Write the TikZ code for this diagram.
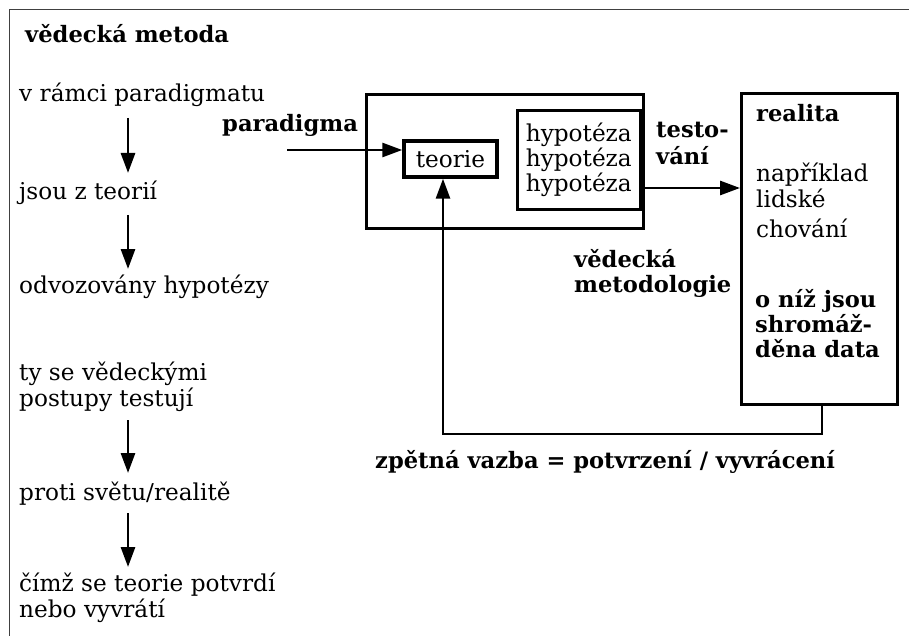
\documentclass[tikz,border=0pt]{standalone}
\usepackage{fontspec}
\setmainfont{DejaVu Serif}
\usetikzlibrary{arrows.meta}
\begin{document}
\begin{tikzpicture}[x=1pt,y=-1pt,
  reg/.style={inner sep=0pt, anchor=base west, font=\fontsize{23.2}{26}\selectfont},
  bld/.style={inner sep=0pt, anchor=base west, font=\fontsize{22.6}{26}\selectfont\bfseries},
  box/.style={draw, line width=3.4pt, inner sep=0pt},
  arr/.style={line width=2.8pt, -{Triangle[length=20pt,width=14pt]}}]
\useasboundingbox (0,0) rectangle (909,636);
% outer frame (open to the right and bottom)
\draw[line width=1.8pt, black!75] (9.5,660) -- (9.5,9.5) -- (930,9.5);

% left column
\node[bld] (title) at (25,43) {vědecká metoda};
\node[reg] (l1) at (19,102) {v rámci paradigmatu};
\node[reg] (l2) at (19,200) {jsou z teorií};
\node[reg] (l3) at (19,293) {odvozovány hypotézy};
\node[reg] (l4a) at (19,380) {ty se vědeckými};
\node[reg] (l4b) at (19,406) {postupy testují};
\node[reg] (l5) at (19,500) {proti světu/realitě};
\node[reg] (l6a) at (19,591) {čímž se teorie potvrdí};
\node[reg] (l6b) at (19,617) {nebo vyvrátí};

\coordinate (a1s) at (128,118); \coordinate (a1e) at (128,173);
\coordinate (a2s) at (128,215); \coordinate (a2e) at (128,269);
\coordinate (a3s) at (128,420); \coordinate (a3e) at (128,473);
\coordinate (a4s) at (128,513); \coordinate (a4e) at (128,567);
\draw[arr] (a1s) -- (a1e);
\draw[arr] (a2s) -- (a2e);
\draw[arr] (a3s) -- (a3e);
\draw[arr] (a4s) -- (a4e);

% methodology box
\node[box, anchor=north west, minimum width=277pt, minimum height=134pt] (meth) at (365,93) {};
\node[box, minimum width=93pt, minimum height=36pt, font=\fontsize{23.2}{26}\selectfont] (teorie) at (450.5,159) {teorie};
\node[box, anchor=north east, minimum width=123pt, minimum height=99pt, align=left,
      font=\fontsize{23.2}{25}\selectfont] (hyp) at (642,109) {hypotéza\\hypotéza\\hypotéza};

% reality box
\node[box, anchor=north west, minimum width=156pt, minimum height=311pt] (real) at (740,92) {};

% labels
\node[bld] (par) at (222,132) {paradigma};
\node[bld] (test1) at (656,138) {testo-};
\node[bld] (test2) at (656,165) {vání};
\node[bld] (r1) at (756,122) {realita};
\node[reg] (r2) at (756,182) {například};
\node[reg] (r3) at (756,208) {lidské};
\node[reg] (r4) at (756,237) {chování};
\node[bld] (m1) at (574,267) {vědecká};
\node[bld] (m2) at (574,292) {metodologie};
\node[bld] (r5) at (755,307) {o níž jsou};
\node[bld] (r6) at (755,332) {shromáž-};
\node[bld] (r7) at (755,357) {děna data};
\node[bld] (fbl) at (375,468) {zpětná vazba = potvrzení / vyvrácení};

% connectors
\coordinate (pstart) at (287,150);
\draw[arr] (pstart) -- (pstart -| teorie.west);
\coordinate (tstart) at (642,188);
\draw[arr] (tstart) -- (tstart -| real.west);
\coordinate (fb) at (822,434);
\coordinate (fbx) at (443,0);
\draw[arr] (real.south -| fb) -- (fb) -| (teorie.south -| fbx);
\end{tikzpicture}
\end{document}
